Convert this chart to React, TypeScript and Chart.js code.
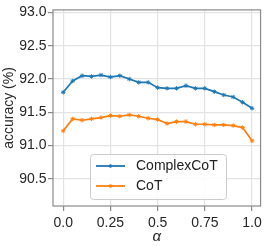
import React, { useEffect, useRef } from "react";
import { Chart, registerables } from "chart.js";

Chart.register(...registerables);

const alphas = [0, 0.05, 0.1, 0.15, 0.2, 0.25, 0.3, 0.35, 0.4, 0.45, 0.5, 0.55, 0.6, 0.65, 0.7, 0.75, 0.8, 0.85, 0.9, 0.95, 1.0];
const complexCoT = [91.8, 91.97, 92.05, 92.04, 92.06, 92.03, 92.05, 92.0, 91.95, 91.95, 91.87, 91.86, 91.86, 91.9, 91.86, 91.86, 91.81, 91.76, 91.73, 91.65, 91.56];
const coT = [91.22, 91.4, 91.38, 91.4, 91.42, 91.45, 91.44, 91.46, 91.44, 91.41, 91.39, 91.33, 91.36, 91.36, 91.32, 91.32, 91.31, 91.31, 91.3, 91.27, 91.07];
const seriesNames = ["ComplexCoT", "CoT"];
const xTicks = [0, 0.25, 0.5, 0.75, 1.0];
const xTickLabels = ["0.0", "0.25", "0.5", "0.75", "1.0"];
const yTicks = [90.5, 91.0, 91.5, 92.0, 92.5, 93.0];
const yTickLabels = ["90.5", "91.0", "91.5", "92.0", "92.5", "93.0"];

const FONT = "'Liberation Sans', Arial, sans-serif";
const BLUE = "#1f77b4";
const ORANGE = "#ff7f0e";

const framePlugin = {
  id: "frameAndLegend",
  afterDraw(chart: any) {
    const { ctx, chartArea: a } = chart;
    ctx.save();
    ctx.strokeStyle = "#8a8a8a";
    ctx.lineWidth = 1.2;
    ctx.strokeRect(a.left, a.top, a.right - a.left, a.bottom - a.top);

    // legend box
    const bx = 90.5, by = 154.5, bw = 136, bh = 45, r = 3;
    ctx.beginPath();
    ctx.moveTo(bx + r, by);
    ctx.lineTo(bx + bw - r, by);
    ctx.quadraticCurveTo(bx + bw, by, bx + bw, by + r);
    ctx.lineTo(bx + bw, by + bh - r);
    ctx.quadraticCurveTo(bx + bw, by + bh, bx + bw - r, by + bh);
    ctx.lineTo(bx + r, by + bh);
    ctx.quadraticCurveTo(bx, by + bh, bx, by + bh - r);
    ctx.lineTo(bx, by + r);
    ctx.quadraticCurveTo(bx, by, bx + r, by);
    ctx.closePath();
    ctx.fillStyle = "rgba(255,255,255,0.85)";
    ctx.fill();
    ctx.strokeStyle = "#cccccc";
    ctx.lineWidth = 1;
    ctx.stroke();

    const colors = [BLUE, ORANGE];
    const ys = [166, 186];
    ctx.font = `14px ${FONT}`;
    ctx.textBaseline = "middle";
    ctx.textAlign = "left";
    for (let i = 0; i < 2; i++) {
      ctx.strokeStyle = colors[i];
      ctx.lineWidth = 1.8;
      ctx.beginPath();
      ctx.moveTo(96, ys[i]);
      ctx.lineTo(125, ys[i]);
      ctx.stroke();
      ctx.fillStyle = colors[i];
      ctx.beginPath();
      ctx.arc(110.5, ys[i], 1.8, 0, Math.PI * 2);
      ctx.fill();
      ctx.fillStyle = "#222";
      ctx.fillText(seriesNames[i], 136, ys[i] + 0.5);
    }
    ctx.restore();
  },
};

export default function App() {
  const ref = useRef<HTMLCanvasElement | null>(null);
  useEffect(() => {
    document.body.style.margin = "0";
    const canvas = ref.current;
    if (!canvas) return;
    const chart = new Chart(canvas, {
      type: "line",
      data: {
        datasets: [
          {
            label: seriesNames[0],
            data: alphas.map((a, i) => ({ x: a, y: complexCoT[i] })),
            borderColor: BLUE,
            backgroundColor: BLUE,
            borderWidth: 1.7,
            pointStyle: "star",
            pointRadius: 2.2,
            pointBorderWidth: 1,
            tension: 0,
          },
          {
            label: seriesNames[1],
            data: alphas.map((a, i) => ({ x: a, y: coT[i] })),
            borderColor: ORANGE,
            backgroundColor: ORANGE,
            borderWidth: 1.7,
            pointStyle: "star",
            pointRadius: 2.2,
            pointBorderWidth: 1,
            tension: 0,
          },
        ],
      },
      options: {
        responsive: false,
        animation: false,
        devicePixelRatio: 1,
        layout: { padding: { top: 4, right: 4, left: 0, bottom: 0 } },
        plugins: { legend: { display: false }, tooltip: { enabled: false } },
        scales: {
          x: {
            type: "linear",
            min: -0.054,
            max: 1.045,
            afterBuildTicks: (s: any) => {
              s.ticks = xTicks.map((v) => ({ value: v }));
            },
            afterFit: (s: any) => {
              s.height = 40;
            },
            ticks: {
              autoSkip: false,
              maxRotation: 0,
              padding: 4,
              color: "#262626",
              font: { family: FONT, size: 14 },
              callback: (v: any) => {
                const i = xTicks.indexOf(Number(v));
                return i >= 0 ? xTickLabels[i] : "";
              },
            },
            grid: { color: "#e3e3e3", lineWidth: 1.2, tickColor: "#8a8a8a", tickLength: 5 },
            border: { display: false },
            title: {
              display: true,
              text: "α",
              color: "#262626",
              font: { family: FONT, size: 15, style: "italic" },
              padding: { top: -9, bottom: 0 },
            },
          },
          y: {
            type: "linear",
            min: 90.09,
            max: 93.04,
            afterBuildTicks: (s: any) => {
              s.ticks = yTicks.map((v) => ({ value: v }));
            },
            afterFit: (s: any) => {
              s.width = 53;
            },
            ticks: {
              autoSkip: false,
              padding: 1.5,
              color: "#262626",
              font: { family: FONT, size: 14 },
              callback: (v: any) => {
                const i = yTicks.indexOf(Number(v));
                return i >= 0 ? yTickLabels[i] : "";
              },
            },
            grid: { color: "#e3e3e3", lineWidth: 1.2, tickColor: "#8a8a8a", tickLength: 5 },
            border: { display: false },
            title: {
              display: true,
              text: "accuracy (%)",
              color: "#262626",
              font: { family: FONT, size: 14 },
              padding: { top: 1, bottom: 0 },
            },
          },
        },
      },
      plugins: [framePlugin],
    } as any);
    return () => chart.destroy();
  }, []);
  return (
    <div style={{ width: 266, height: 246, background: "#fff" }}>
      <canvas ref={ref} width={266} height={246} style={{ display: "block", width: 266, height: 246 }} />
    </div>
  );
}
